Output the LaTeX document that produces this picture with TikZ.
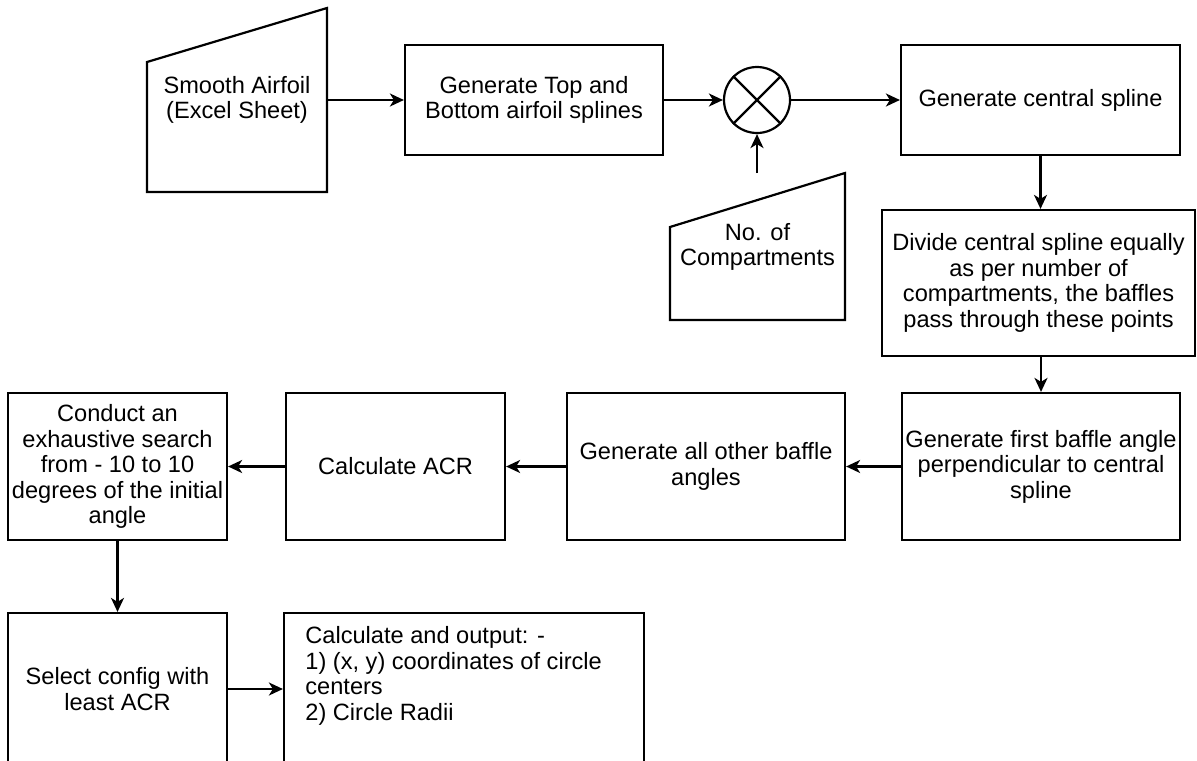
\documentclass[tikz,border=0pt]{standalone}
\usepackage{fontspec}
\setmainfont{Liberation Sans}
\usetikzlibrary{arrows.meta, positioning, calc}

\begin{document}
\begin{tikzpicture}[x=0.5pt, y=-0.5pt,
    font=\fontsize{11.8}{12.8}\selectfont,
    block/.style={draw, line width=1.1pt, align=center, inner sep=0pt},
    manual/.style={draw, line width=1.1pt, line join=miter},
    flow/.style={-{Stealth[length=7pt, width=6.5pt, inset=2pt]}, line width=1.1pt}]

                \useasboundingbox (0,0) rectangle (1197,760);
                \clip (0,0) rectangle (1197,760);

                % Inputs (manual input shapes)
                \draw[manual] (147,62) -- (327,8) -- (327,192) -- (147,192) -- cycle;
                \node[align=center, inner sep=0pt, minimum width=90pt] (airfoil) at (237,100) {Smooth Airfoil\\(Excel Sheet)};
                \draw[manual] (670,227) -- (845,173) -- (845,320) -- (670,320) -- cycle;
                \node[align=center, inner sep=0pt] (count) at (757.5,247) {No. of\\Compartments};
                \coordinate (count-top) at (757,173);

                % Top row
                \node[block, minimum width=129pt, minimum height=55pt] (splines) at (534,100) {Generate Top and\\Bottom airfoil splines};
                \node[draw, circle, line width=1.1pt, minimum size=33pt, inner sep=0pt] (mix) at (757,100) {};
                \draw[line width=1.1pt] (mix.45) -- (mix.225) (mix.135) -- (mix.315);
                \node[block, minimum width=139.5pt, minimum height=55pt] (central) at (1040.5,100) {Generate central spline};

                % Right column
                \node[block, minimum width=156.5pt, minimum height=73pt] (divide) at (1038.5,283) {Divide central spline equally\\as per number of\\compartments, the baffles\\pass through these points};

                % Middle row, right to left
                \node[block, minimum width=139pt, minimum height=73.5pt] (first) at (1041,466.5) {Generate first baffle angle\\perpendicular to central\\spline};
                \node[block, minimum width=139pt, minimum height=73.5pt] (others) at (706,466.5) {Generate all other baffle\\angles};
                \node[block, minimum width=109.5pt, minimum height=73.5pt] (acr) at (395.5,466.5) {Calculate ACR};
                \node[block, minimum width=109.5pt, minimum height=73.5pt] (search) at (117.5,466.5) {Conduct an\\exhaustive search\\from - 10 to 10\\degrees of the initial\\angle};

                % Bottom row
                \node[block, minimum width=109.5pt, minimum height=76pt] (select) at (117.5,689) {Select config with\\least ACR};
                \node[block, minimum width=180pt, minimum height=76pt] (result) at (464,689) {};
                \node[anchor=north west, align=left, inner sep=0pt] (result-text) at (305,626) {Calculate and output: -\\1) (x, y) coordinates of circle\\centers\\2) Circle Radii};

                % Connectors
                \draw[flow] (airfoil.east) -- (splines.west);
                \draw[flow] (splines.east) -- (mix.west);
                \draw[flow] (mix.east) -- (central.west);
                \draw[flow] (count-top) -- (mix.south);
                \draw[flow] (central.south) -- (central.south |- divide.north);
                \draw[flow] (first.north |- divide.south) -- (first.north);
                \draw[flow] (first.west) -- (others.east);
                \draw[flow] (others.west) -- (acr.east);
                \draw[flow] (acr.west) -- (search.east);
                \draw[flow] (search.south) -- (select.north);
                \draw[flow] (select.east) -- (result.west);
            \end{tikzpicture}
\end{document}
